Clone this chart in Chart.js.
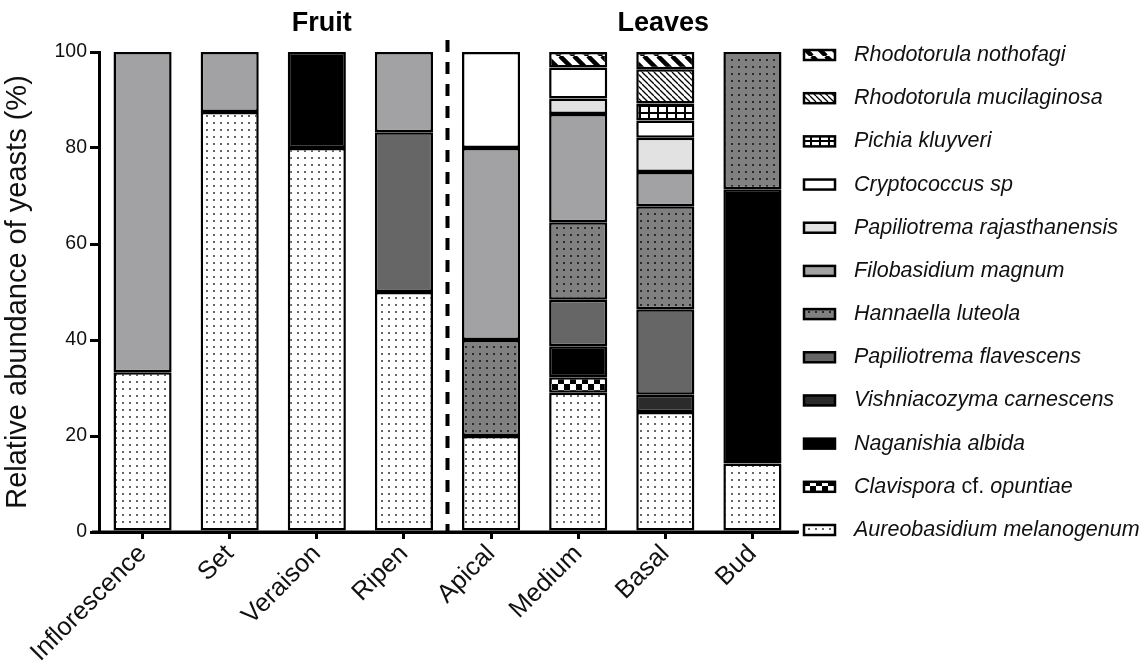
<!DOCTYPE html>
<html>
<head>
<meta charset="utf-8">
<script src="https://cdn.jsdelivr.net/npm/chart.js@4.4.1/dist/chart.umd.min.js"></script>
<style>
  html, body { margin: 0; padding: 0; background: #fff; }
</style>
</head>
<body>
<canvas id="chart" width="1144" height="665"></canvas>
<script>
const categories = ['Inflorescence', 'Set', 'Veraison', 'Ripen', 'Apical', 'Medium', 'Basal', 'Bud'];
const yTicks = [0, 20, 40, 60, 80, 100];

// relative abundance (%) per species, bottom of the stack first
const aureobasidium = [33.3, 87.5, 80, 50, 20, 29.03, 25, 14.29];
const clavispora    = [null, null, null, null, null, 3.23, null, null];
const naganishia    = [null, null, 20, null, null, 6.45, null, 57.14];
const vishniacozyma = [null, null, null, null, null, null, 3.57, null];
const papFlavescens = [null, null, null, 33.3, null, 9.68, 17.86, null];
const hannaella     = [null, null, null, null, 20, 16.13, 21.43, 28.57];
const filobasidium  = [66.7, 12.5, null, 16.7, 40, 22.58, 7.14, null];
const papRajasth    = [null, null, null, null, null, 3.23, 7.14, null];
const cryptococcus  = [null, null, null, null, 20, 6.45, 3.57, null];
const pichia        = [null, null, null, null, null, null, 3.57, null];
const rhoMucilag    = [null, null, null, null, null, null, 7.14, null];
const rhoNothofagi  = [null, null, null, null, null, 3.23, 3.57, null];

const FONT = "'Liberation Sans', Arial, sans-serif";

function makePattern(w, h, draw) {
  const c = document.createElement('canvas');
  c.width = w; c.height = h;
  const g = c.getContext('2d');
  draw(g, w, h);
  return g.createPattern(c, 'repeat');
}

function dots(bg, dot) {
  return makePattern(7, 7, (g) => {
    g.fillStyle = bg; g.fillRect(0, 0, 7, 7);
    g.fillStyle = dot; g.fillRect(3, 3, 2, 2);
  });
}

function hatch(size, lw) {
  return makePattern(size, size, (g, w) => {
    g.fillStyle = '#fff'; g.fillRect(0, 0, w, w);
    g.strokeStyle = '#000'; g.lineWidth = lw;
    for (let k = -1; k <= 1; k++) {
      g.beginPath();
      g.moveTo(k * w, 0);
      g.lineTo(k * w + w, w);
      g.stroke();
    }
  });
}

const checker = makePattern(12, 12, (g) => {
  g.fillStyle = '#fff'; g.fillRect(0, 0, 12, 12);
  g.fillStyle = '#000'; g.fillRect(0, 0, 6, 6); g.fillRect(6, 6, 6, 6);
});

const grid = makePattern(9, 7, (g) => {
  g.fillStyle = '#fff'; g.fillRect(0, 0, 9, 7);
  g.fillStyle = '#000'; g.fillRect(0, 0, 2, 7); g.fillRect(0, 0, 9, 2);
});

const series = [
  { label: 'Aureobasidium melanogenum', data: aureobasidium, fill: dots('#fff', '#666') },
  { label: 'Clavispora cf. opuntiae', data: clavispora, fill: checker },
  { label: 'Naganishia albida', data: naganishia, fill: '#000' },
  { label: 'Vishniacozyma carnescens', data: vishniacozyma, fill: '#2b2b2b' },
  { label: 'Papiliotrema flavescens', data: papFlavescens, fill: '#666666' },
  { label: 'Hannaella luteola', data: hannaella, fill: dots('#808080', '#2a2a2a') },
  { label: 'Filobasidium magnum', data: filobasidium, fill: '#a2a2a5' },
  { label: 'Papiliotrema rajasthanensis', data: papRajasth, fill: '#e2e2e2' },
  { label: 'Cryptococcus sp', data: cryptococcus, fill: '#fff' },
  { label: 'Pichia kluyveri', data: pichia, fill: grid },
  { label: 'Rhodotorula mucilaginosa', data: rhoMucilag, fill: hatch(6, 1.3) },
  { label: 'Rhodotorula nothofagi', data: rhoNothofagi, fill: hatch(14, 4.5) }
];

// dashed separator between fruit and leaves, plus the axis stubs past the corners
const separator = {
  id: 'separator',
  afterDatasetsDraw(chart) {
    const { ctx, chartArea } = chart;
    const x = chart.scales.x;
    const px = (x.getPixelForValue(3) + x.getPixelForValue(4)) / 2;
    ctx.save();
    ctx.strokeStyle = '#000';
    ctx.lineWidth = 3;
    ctx.beginPath();
    ctx.moveTo(chartArea.left - 7, chartArea.bottom);
    ctx.lineTo(chartArea.right + 3, chartArea.bottom);
    ctx.stroke();
    ctx.lineWidth = 4;
    ctx.setLineDash([12, 10]);
    ctx.beginPath();
    ctx.moveTo(px, chartArea.top - 12);
    ctx.lineTo(px, chartArea.bottom);
    ctx.stroke();
    ctx.restore();
  }
};

const groupTitles = {
  id: 'groupTitles',
  afterDraw(chart) {
    const { ctx, chartArea } = chart;
    const x = chart.scales.x;
    ctx.save();
    ctx.fillStyle = '#000';
    ctx.font = 'bold 27px ' + FONT;
    ctx.textAlign = 'center';
    ctx.textBaseline = 'alphabetic';
    ctx.fillText('Fruit', x.getPixelForValue(2) + 5, chartArea.top - 21);
    ctx.fillText('Leaves', (x.getPixelForValue(5) + x.getPixelForValue(7)) / 2 - 2, chartArea.top - 21);
    ctx.restore();
  }
};

// legend on the right, top of stack first, genus names in italics
const sideLegend = {
  id: 'sideLegend',
  afterDraw(chart) {
    const { ctx, chartArea } = chart;
    const list = chart.data.datasets.slice().reverse();
    const top = chartArea.top + 3;
    const step = (chartArea.bottom - chartArea.top - 5) / (list.length - 1);
    const bx = chartArea.right + 8;
    ctx.save();
    list.forEach((ds, i) => {
      const yc = top + i * step;
      ctx.fillStyle = ds.backgroundColor;
      ctx.fillRect(bx, yc - 5, 31, 10);
      ctx.strokeStyle = '#000';
      ctx.lineWidth = 2.5;
      ctx.strokeRect(bx, yc - 5, 31, 10);
      let tx = bx + 50;
      ctx.fillStyle = '#111';
      ctx.textBaseline = 'middle';
      ctx.textAlign = 'left';
      ds.label.split(' ').forEach((w, j, arr) => {
        ctx.font = (w === 'cf.' ? '' : 'italic ') + '21.5px ' + FONT;
        const t = j < arr.length - 1 ? w + ' ' : w;
        ctx.fillText(t, tx, yc);
        tx += ctx.measureText(t).width;
      });
    });
    ctx.restore();
  }
};

new Chart(document.getElementById('chart'), {
  type: 'bar',
  data: {
    labels: categories,
    datasets: series.map(s => ({
      label: s.label,
      data: s.data,
      backgroundColor: s.fill,
      borderColor: '#000',
      borderWidth: 2.5,
      borderSkipped: false,
      barPercentage: 1,
      categoryPercentage: 0.667
    }))
  },
  options: {
    responsive: false,
    animation: false,
    layout: { padding: { top: 52, right: 348, left: 0, bottom: 0 } },
    plugins: { legend: { display: false }, tooltip: { enabled: false } },
    scales: {
      x: {
        stacked: true,
        grid: { drawOnChartArea: false, drawTicks: true, tickLength: 7, lineWidth: 3, color: '#000', offset: false },
        border: { display: true, color: '#000', width: 3 },
        ticks: { color: '#111', font: { family: FONT, size: 25.5 }, minRotation: 45, maxRotation: 45, padding: 0 },
        afterFit(s) { s.height = 133; }
      },
      y: {
        stacked: true,
        min: 0,
        max: 100,
        afterBuildTicks(s) { s.ticks = yTicks.map(v => ({ value: v })); },
        grid: { drawOnChartArea: false, tickLength: 9, lineWidth: 3, color: '#000' },
        border: { display: true, color: '#000', width: 3 },
        ticks: { color: '#111', font: { family: FONT, size: 19.5 }, padding: 3 },
        title: {
          display: true,
          text: 'Relative abundance of yeasts (%)',
          color: '#111',
          font: { family: FONT, size: 29 },
          padding: { top: 1, bottom: 4 }
        },
        afterFit(s) { s.width = 99; }
      }
    }
  },
  plugins: [separator, groupTitles, sideLegend]
});
</script>
</body>
</html>
